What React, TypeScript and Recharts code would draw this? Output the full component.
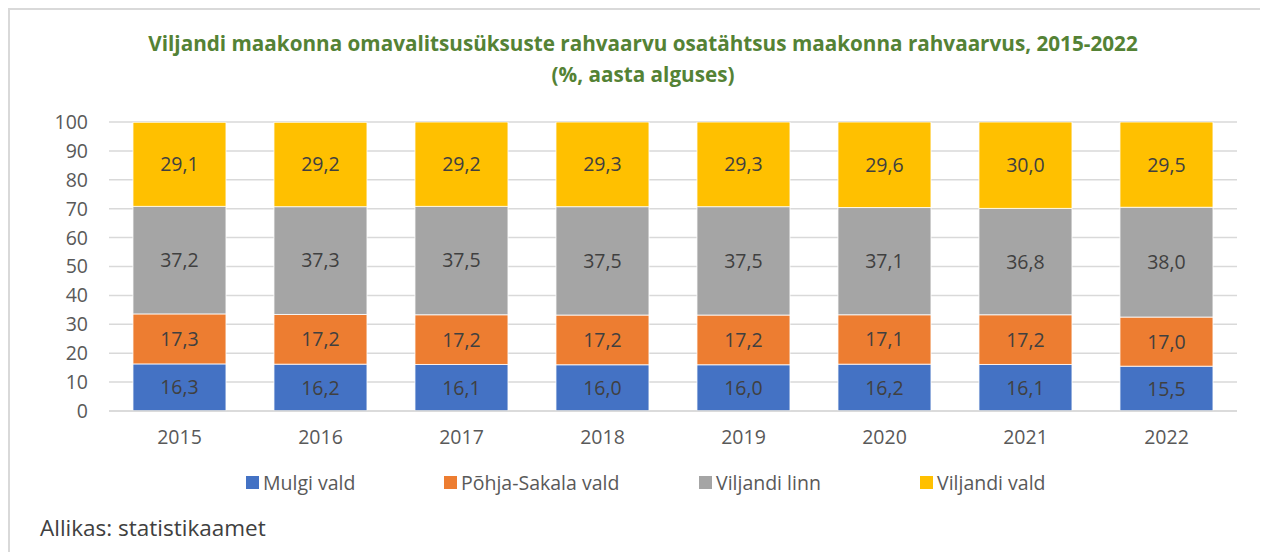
import React from "react";
import { BarChart, Bar, XAxis, YAxis, CartesianGrid, LabelList } from "recharts";

const years = ["2015", "2016", "2017", "2018", "2019", "2020", "2021", "2022"];
const mulgi = [16.3, 16.2, 16.1, 16.0, 16.0, 16.2, 16.1, 15.5];
const pohjaSakala = [17.3, 17.2, 17.2, 17.2, 17.2, 17.1, 17.2, 17.0];
const viljandiLinn = [37.2, 37.3, 37.5, 37.5, 37.5, 37.1, 36.8, 38.0];
const viljandiVald = [29.1, 29.2, 29.2, 29.3, 29.3, 29.6, 30.0, 29.5];
const yTicks = [0, 10, 20, 30, 40, 50, 60, 70, 80, 90, 100];

const series = [
  { key: "mulgi", name: "Mulgi vald", color: "#4472C4", values: mulgi },
  { key: "pohja", name: "Põhja-Sakala vald", color: "#ED7D31", values: pohjaSakala },
  { key: "linn", name: "Viljandi linn", color: "#A5A5A5", values: viljandiLinn },
  { key: "vald", name: "Viljandi vald", color: "#FFC000", values: viljandiVald },
];

// legend item x positions (Excel spaces them unevenly)
const legendLeft = [236, 434, 689, 910];

const data = years.map((year, i) => {
  const row: Record<string, string | number> = { year };
  series.forEach((s) => {
    row[s.key] = s.values[i];
  });
  return row;
});

const font = "'Open Sans', 'Noto Sans', sans-serif";
const fmt = (v: any) => Number(v).toFixed(1).replace(".", ",");

export default function App() {
  return (
    <div
      style={{
        position: "relative",
        width: 1260,
        height: 544,
        borderLeft: "2px solid #D9D9D9",
        borderTop: "2px solid #D9D9D9",
        boxSizing: "border-box",
        fontFamily: font,
        overflow: "hidden",
      }}
    >
      <div
        style={{
          position: "absolute",
          top: 18,
          left: 0,
          width: 1266,
          textAlign: "center",
          color: "#548235",
          fontWeight: 700,
          fontSize: 20.7,
          lineHeight: "31px",
        }}
      >
        Viljandi maakonna omavalitsusüksuste rahvaarvu osatähtsus maakonna rahvaarvus, 2015-2022
        <br />
        (%, aasta alguses)
      </div>
      <div style={{ position: "absolute", top: -2, left: -2 }}>
        <BarChart
          width={1260}
          height={460}
          data={data}
          barCategoryGap="17%"
          margin={{ top: 114, right: 31, left: 0, bottom: 27 }}
        >
          <CartesianGrid vertical={false} stroke="#D9D9D9" strokeWidth={1.5} />
          <XAxis
            dataKey="year"
            axisLine={{ stroke: "#D9D9D9", strokeWidth: 1.5 }}
            tickLine={false}
            tickMargin={13}
            height={30}
            tick={{ fill: "#595959", fontSize: 19.5, fontFamily: font }}
          />
          <YAxis
            domain={[0, 100]}
            ticks={yTicks}
            allowDataOverflow
            width={101}
            axisLine={false}
            tickLine={false}
            tickMargin={15}
            tick={{ fill: "#595959", fontSize: 19.5, fontFamily: font }}
          />
          {series.map((s) => (
            <Bar
              key={s.key}
              dataKey={s.key}
              name={s.name}
              stackId="a"
              fill={s.color}
              stroke="#ffffff"
              strokeWidth={0.8}
              isAnimationActive={false}
            >
              <LabelList
                dataKey={s.key}
                position="center"
                formatter={fmt}
                fill="#404040"
                fontSize={19.5}
                fontFamily={font}
              />
            </Bar>
          ))}
        </BarChart>
      </div>
      {series.map((s, i) => (
        <div
          key={s.key}
          style={{
            position: "absolute",
            top: 459,
            left: legendLeft[i],
            display: "flex",
            alignItems: "center",
            fontSize: 19.5,
            color: "#595959",
            whiteSpace: "nowrap",
          }}
        >
          <span
            style={{
              display: "inline-block",
              width: 13,
              height: 13,
              background: s.color,
              marginRight: 4,
            }}
          />
          <span>{s.name}</span>
        </div>
      ))}
      <div
        style={{
          position: "absolute",
          top: 502,
          left: 30,
          fontSize: 22.5,
          color: "#404040",
        }}
      >
        Allikas: statistikaamet
      </div>
    </div>
  );
}
